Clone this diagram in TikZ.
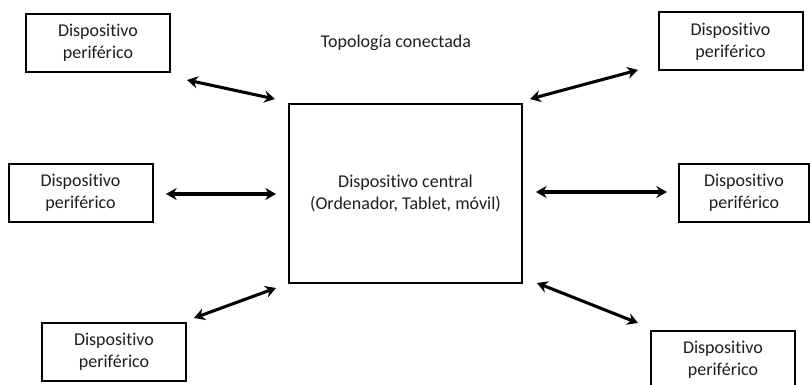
\documentclass[tikz,border=0pt]{standalone}
\usepackage{fontspec}
\setmainfont{Carlito}[Ligatures=NoCommon]
\usetikzlibrary{arrows.meta}
\definecolor{textgray}{RGB}{30,30,30}
\tikzset{
  perif/.style={draw,line width=1.5pt,minimum width=108pt,minimum height=43.5pt,
    align=center,text=textgray,font=\fontsize{13.5}{16.5}\selectfont},
  central/.style={perif,minimum width=174.75pt,minimum height=134.25pt},
  enlace/.style={{Stealth[length=8pt,width=9pt]}-{Stealth[length=8pt,width=9pt]},line width=2.3pt}
}

\begin{document}
\begin{tikzpicture}[x=0.75pt,y=-0.75pt]
    \clip (0,0) rectangle (810,385);
    \node[central] (centro) at (405.5,193.5) {Dispositivo central\\(Ordenador, Tablet, móvil)};
    \node[perif] (pTL) at (98,43) {Dispositivo\\periférico};
    \node[perif] (pTR) at (730.5,41.5) {Dispositivo\\periférico};
    \node[perif] (pML) at (80.5,193) {Dispositivo\\periférico};
    \node[perif,minimum width=97.5pt] (pMR) at (744,193) {Dispositivo\\periférico};
    \node[perif] (pBL) at (114,351.5) {Dispositivo\\periférico};
    \node[perif] (pBR) at (723,360) {Dispositivo\\periférico};
    \node[text=textgray,font=\fontsize{13.5}{16.5}\selectfont] (titulo) at (396,43) {Topología conectada};
    % Arrow ends sit apart from the boxes, so they get their own points.
    \coordinate (aTL) at (187,80);  \coordinate (bTL) at (275,99);
    \coordinate (aTR) at (530,99);  \coordinate (bTR) at (638,70);
    \coordinate (aML) at (166,194); \coordinate (bML) at (276,194);
    \coordinate (aMR) at (536,192); \coordinate (bMR) at (667,192);
    \coordinate (aBL) at (194,318); \coordinate (bBL) at (276,288);
    \coordinate (aBR) at (537,283); \coordinate (bBR) at (638,323);
    \draw[enlace] (aTL) -- (bTL);
    \draw[enlace] (aTR) -- (bTR);
    \draw[enlace] (aML) -- (bML);
    \draw[enlace] (aMR) -- (bMR);
    \draw[enlace] (aBL) -- (bBL);
    \draw[enlace] (aBR) -- (bBR);
  \end{tikzpicture}
\end{document}
